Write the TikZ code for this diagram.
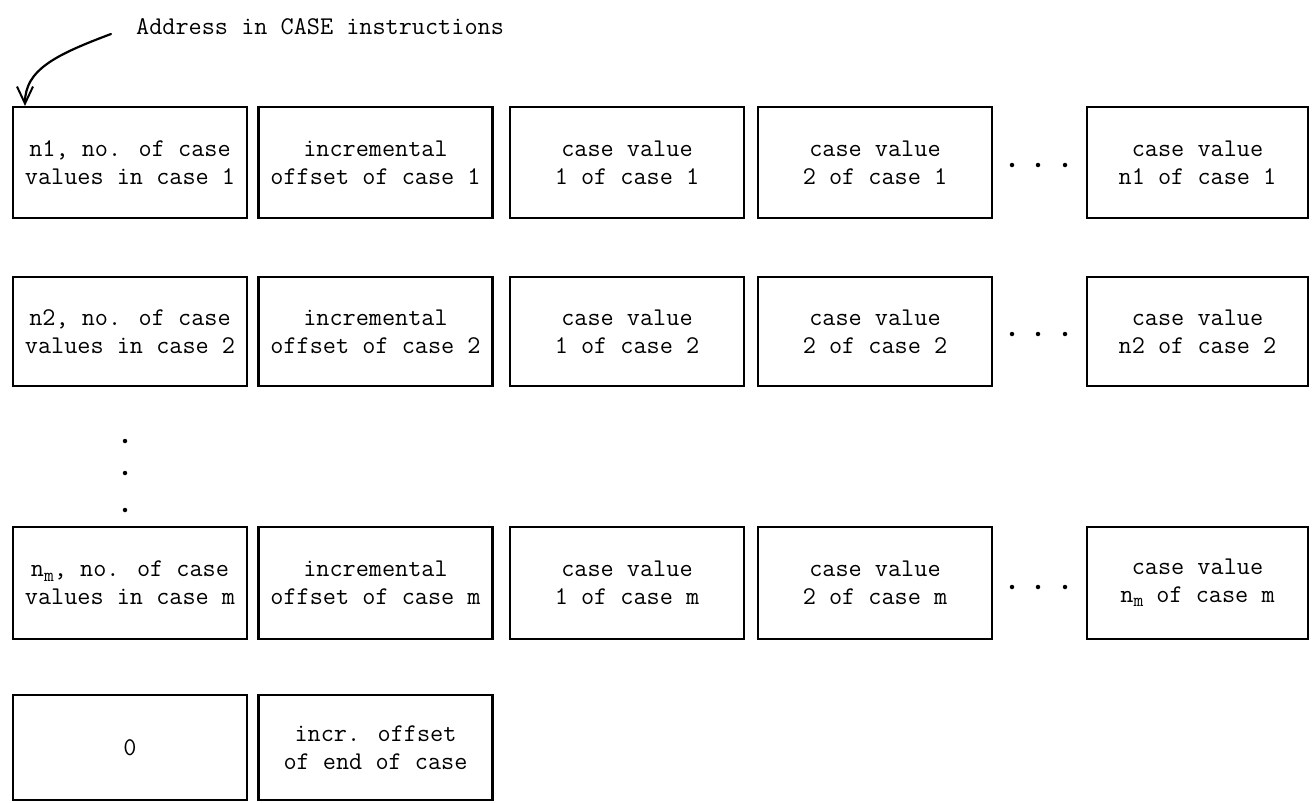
\documentclass[tikz,border=0pt]{standalone}
\usetikzlibrary{arrows.meta}
% subscript m as set on the typewriter: lowered, nearly full size
\newcommand{\subm}{\raisebox{-0.4ex}{\fontsize{19}{19}\selectfont m}}
\begin{document}
\begin{tikzpicture}[x=1pt,y=-1pt,
  font=\fontsize{25.5}{28}\selectfont\ttfamily,
  cell/.style={draw, line width=2.2pt, inner sep=0pt, align=center,
               minimum width=234pt},
  rowa/.style={cell, minimum height=111pt},
  rowb/.style={cell, minimum height=109pt},
  rowc/.style={cell, minimum height=112pt},
  rowd/.style={cell, minimum height=105pt},
  lastcol/.style={minimum width=221pt},
  dot/.style={circle, fill, inner sep=0pt, minimum size=4.5pt}]
\useasboundingbox (0,0) rectangle (1312,803);

% pointer label
\node[anchor=west, inner sep=0pt] (addr) at (136,27) {Address in CASE instructions};
\coordinate (tail) at (111,34);

% case 1
\node[rowa] (a1) at (130,162.5)   {n1, no. of case\\values in case 1};
\node[rowa] (a2) at (375.5,162.5) {incremental\\offset of case 1};
\node[rowa] (a3) at (627,162.5)   {case value\\1 of case 1};
\node[rowa] (a4) at (875,162.5)   {case value\\2 of case 1};
\node[rowa,lastcol] (a5) at (1197.5,162.5) {case value\\n1 of case 1};

% case 2
\node[rowb] (b1) at (130,331.5)   {n2, no. of case\\values in case 2};
\node[rowb] (b2) at (375.5,331.5) {incremental\\offset of case 2};
\node[rowb] (b3) at (627,331.5)   {case value\\1 of case 2};
\node[rowb] (b4) at (875,331.5)   {case value\\2 of case 2};
\node[rowb,lastcol] (b5) at (1197.5,331.5) {case value\\n2 of case 2};

% case m
\node[rowc] (c1) at (130,583)   {n\subm, no. of case\\values in case m};
\node[rowc] (c2) at (375.5,583) {incremental\\offset of case m};
\node[rowc] (c3) at (627,583)   {case value\\1 of case m};
\node[rowc] (c4) at (875,583)   {case value\\2 of case m};
\node[rowc,lastcol] (c5) at (1197.5,583) {case value\\n\subm{} of case m};

% terminator
\node[rowd] (d1) at (130,747.5)   {0};
\node[rowd] (d2) at (375.5,747.5) {incr. offset\\of end of case};

% arrow to the first word
\draw[line width=2.2pt, line cap=round,
      -{Straight Barb[length=17pt,width=16pt,line width=2pt]}]
  (tail) .. controls (55,55) and (25,70) .. (a1.north west -| 25,0);

% horizontal ellipses
\foreach \r/\y in {a/165, b/334, c/587} {
  \node[dot] (\r d1) at (1012,\y) {};
  \node[dot] (\r d2) at (1038,\y) {};
  \node[dot] (\r d3) at (1065,\y) {};
}
% vertical ellipsis
\node[dot] (v1) at (125,441) {};
\node[dot] (v2) at (125,473) {};
\node[dot] (v3) at (125,510) {};
\end{tikzpicture}
\end{document}
